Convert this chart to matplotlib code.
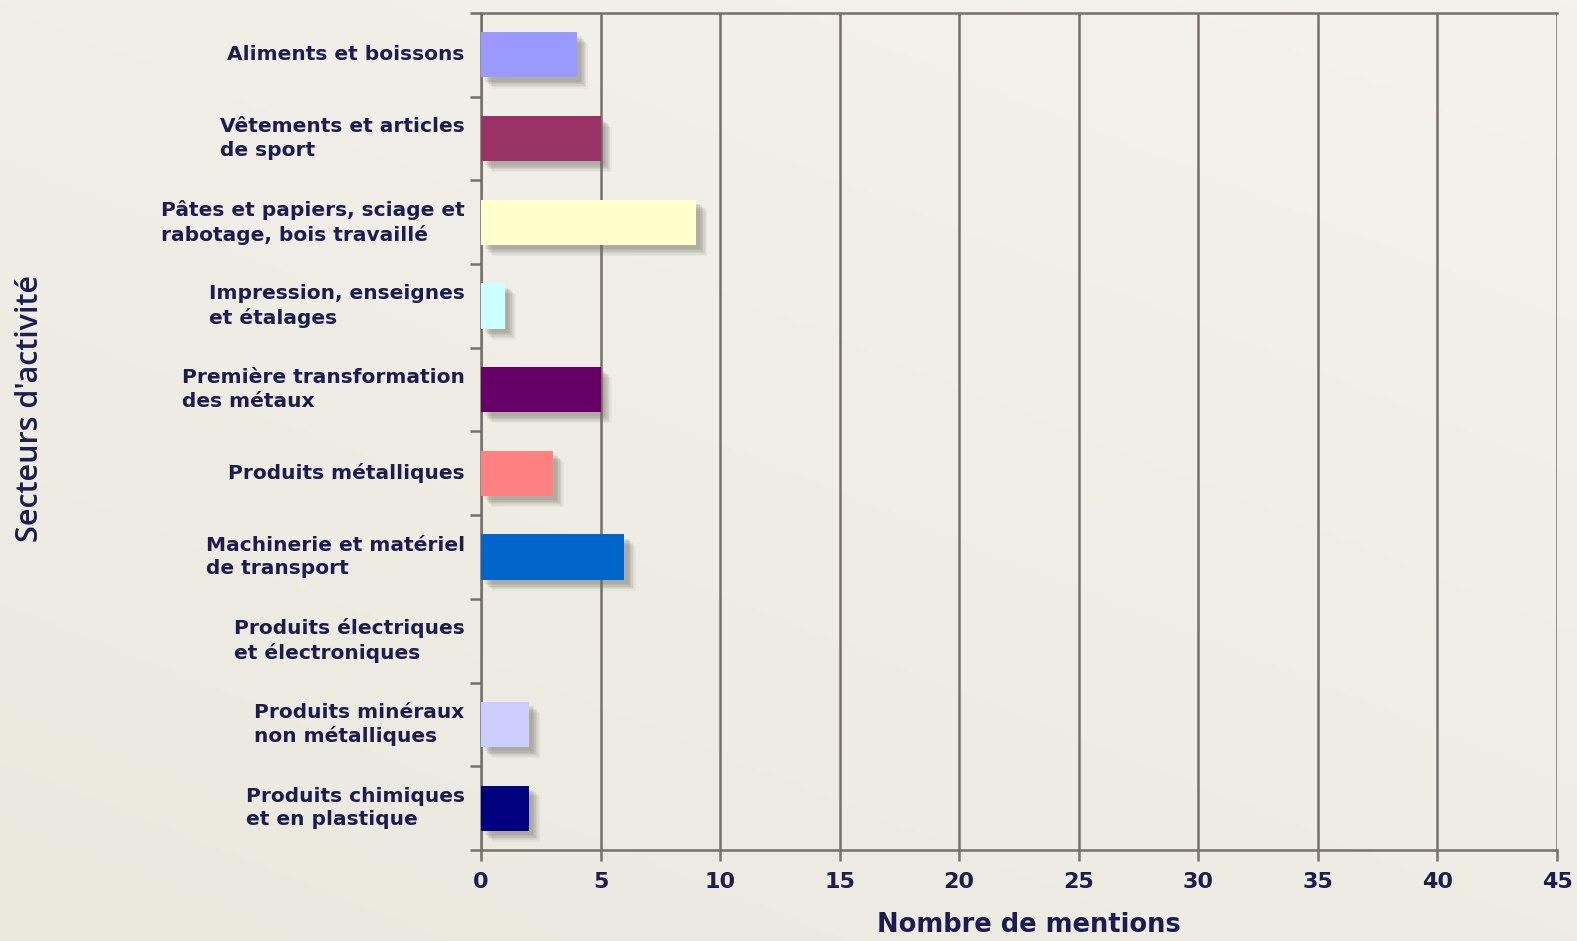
import matplotlib
matplotlib.use("Agg")
import matplotlib.pyplot as plt
import matplotlib.patheffects as pe
import numpy as np
from matplotlib.colors import LinearSegmentedColormap

categories = [
    "Aliments et boissons",
    "Vêtements et articles\nde sport",
    "Pâtes et papiers, sciage et\nrabotage, bois travaillé",
    "Impression, enseignes\net étalages",
    "Première transformation\ndes métaux",
    "Produits métalliques",
    "Machinerie et matériel\nde transport",
    "Produits électriques\net électroniques",
    "Produits minéraux\nnon métalliques",
    "Produits chimiques\net en plastique",
]
values = [4, 5, 9, 1, 5, 3, 6, 0, 2, 2]
colors = ["#9999ff", "#993366", "#ffffcc", "#ccffff", "#660066",
          "#ff8080", "#0066cc", "#ccccff", "#ccccff", "#000080"]
xticks = list(range(0, 50, 5))

bg = "#eeebe2"
txt = "#1c1c50"
grid = "#75716a"

W, H = 1577, 941
fig = plt.figure(figsize=(W / 100, H / 100), dpi=100, facecolor=bg)

# subtle background gradient
bgax = fig.add_axes([0, 0, 1, 1], zorder=-5)
cmap = LinearSegmentedColormap.from_list("bg", ["#ebe8de", "#f4f2ec"])
yy, xx = np.mgrid[0:1:200j, 0:1:200j]
grad = 0.6 * yy + 0.4 * xx
bgax.imshow(grad, cmap=cmap, origin="lower", extent=[0, 1, 0, 1], aspect="auto")
bgax.axis("off")

ax = fig.add_axes([481 / W, 1 - 850 / H, (1557 - 481) / W, (850 - 13) / H])
ax.set_facecolor("none")

n = len(categories)
ypos = list(range(n))
bars = ax.barh(ypos, values, height=0.54, color=colors, zorder=3)
shadow = []
for off, a in [(8, 0.06), (7, 0.08), (6, 0.1), (5, 0.12), (4, 0.12), (3, 0.12)]:
    shadow.append(pe.SimplePatchShadow(offset=(off, -off), shadow_rgbFace="#6a665e", alpha=a))
for b in bars:
    b.set_path_effects(shadow + [pe.Normal()])

ax.set_ylim(n - 0.5, -0.5)
ax.set_xlim(0, 45)
ax.set_xticks(xticks)
ax.set_xticklabels([str(t) for t in xticks], fontsize=16, fontweight="bold", color=txt)
ax.xaxis.grid(True, color=grid, linewidth=1.8, zorder=1)
ax.tick_params(axis="x", length=8, width=1.8, color=grid, pad=8)

# category boundaries as tick marks, labels at centers
ax.set_yticks([i + 0.5 for i in range(-1, n)])
ax.set_yticklabels([])
ax.tick_params(axis="y", length=8, width=1.8, color=grid)
for i, lab in enumerate(categories):
    ax.text(-0.68, i, lab, ha="right", va="center", multialignment="left",
            fontsize=14.5, fontweight="bold", color=txt, linespacing=1.3)

for s in ["left", "bottom", "top", "right"]:
    ax.spines[s].set_color(grid)
    ax.spines[s].set_linewidth(1.8)
ax.spines["right"].set_visible(False)

fig.text(1029 / W, 1 - 925 / H, "Nombre de mentions", ha="center", va="center",
         fontsize=18.5, fontweight="bold", color=txt)
fig.text(30 / W, 1 - 408 / H, "Secteurs d'activité", rotation=90, ha="center", va="center",
         fontsize=22, fontfamily="Open Sans", fontweight="semibold", color=txt)

fig.savefig("out.png", dpi=100, facecolor=bg)
